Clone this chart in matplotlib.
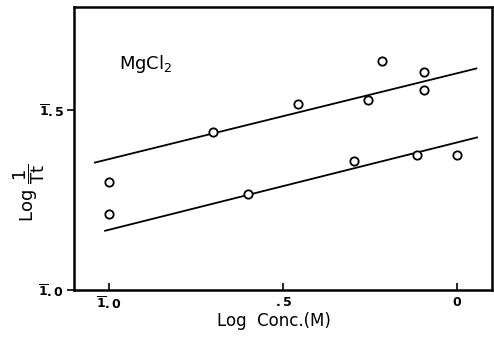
import matplotlib
matplotlib.use("Agg")
import matplotlib.pyplot as plt

# Data (log concentration vs log 1/Tt)
upper_x = [-1.0, -0.70, -0.457, -0.256, -0.216, -0.095, -0.095]
upper_y = [-0.698, -0.559, -0.483, -0.472, -0.363, -0.394, -0.444]
lower_x = [-1.0, -0.60, -0.296, -0.115, 0.0]
lower_y = [-0.788, -0.732, -0.642, -0.623, -0.623]

upper_line_x = [-1.04, 0.055]
upper_line_y = [-0.645, -0.383]
lower_line_x = [-1.011, 0.057]
lower_line_y = [-0.835, -0.575]

xticks = [-1.0, -0.5, 0.0]
xticklabels = [r"$\mathbf{\overline{1}.0}$", r"$\mathbf{.5}$", r"$\mathbf{0}$"]
yticks = [-1.0, -0.5]
yticklabels = [r"$\mathbf{\overline{1}.0}$", r"$\mathbf{\overline{1}.5}$"]

fig = plt.figure(figsize=(4.94, 3.38), dpi=100)
ax = fig.add_axes([0.150, 0.142, 0.846, 0.837])

ax.plot(upper_line_x, upper_line_y, color="black", lw=1.3)
ax.plot(lower_line_x, lower_line_y, color="black", lw=1.3)
ax.plot(upper_x, upper_y, "o", mfc="white", mec="black", mew=1.3, ms=6)
ax.plot(lower_x, lower_y, "o", mfc="white", mec="black", mew=1.3, ms=6)

ax.set_xlim(-1.10, 0.10)
ax.set_ylim(-1.0, -0.212)

ax.set_xticks(xticks)
ax.set_xticklabels(xticklabels, fontsize=9)
ax.set_yticks(yticks)
ax.set_yticklabels(yticklabels, fontsize=9)
ax.tick_params(axis="x", direction="in", length=5, width=1.2, pad=4)
ax.tick_params(axis="y", direction="out", length=5, width=1.2, pad=2)

for s in ax.spines.values():
    s.set_linewidth(1.8)

ax.text(0.108, 0.80, r"MgCl$_2$", transform=ax.transAxes, fontsize=13,
        ha="left", va="center")

fig.text(0.555, 0.05, "Log  Conc.(M)", fontsize=12, ha="center", va="center")
fig.text(0.06, 0.43, r"Log $\dfrac{1}{\mathrm{Tt}}$", fontsize=13, rotation=90,
         ha="center", va="center")

fig.savefig("out.png", dpi=100)
